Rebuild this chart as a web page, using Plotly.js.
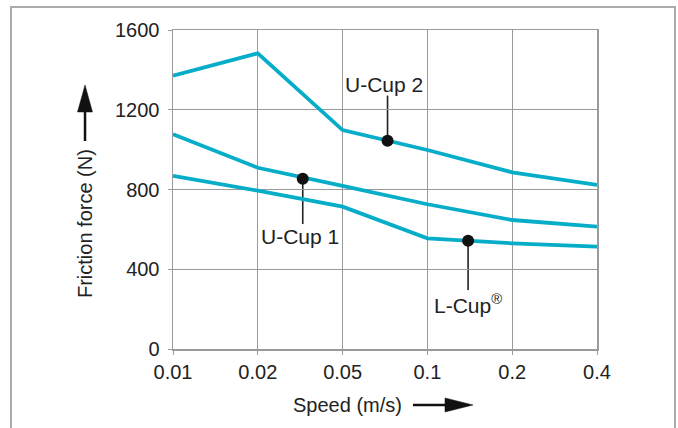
<!DOCTYPE html>
<html>
<head>
<meta charset="utf-8">
<script src="https://cdn.plot.ly/plotly-3.0.1.min.js"></script>
<style>
  html, body { margin: 0; padding: 0; background: #fff; }
  #wrap { position: relative; width: 678px; height: 428px; overflow: hidden; }
  #chart { width: 678px; height: 428px; }
  #frame { position: absolute; left: 10px; top: 6px; width: 662px; height: 440px;
           border: 2px solid #ababab; border-bottom: none; pointer-events: none; }
</style>
</head>
<body>
<div id="wrap"><div id="chart"></div><div id="frame"></div></div>
<script>
// ---- data ----
const speedLabels = ['0.01', '0.02', '0.05', '0.1', '0.2', '0.4'];
const speedIndex = [0, 1, 2, 3, 4, 5];
const uCup2 = [1371, 1483, 1098, 998, 886, 823];
const uCup1 = [1077, 909, 818, 726, 647, 614];
const lCup  = [868, 794, 714, 555, 530, 513];

const labelNames = ['U-Cup 2', 'U-Cup 1', 'L-Cup<sup>®</sup>'];
const labelDotX = [2.53, 1.53, 3.48];
const labelDotY = [1045, 854, 543];
const labelLineEndY = [1271, 627, 296];
const labelTextX = [2.49, 1.50, 3.48];
const labelTextY = [1329, 563, 226];

const yTicks = [0, 400, 800, 1200, 1600];

// ---- chart ----
const lineColor = '#06adc8';
const font = 'Liberation Sans, Arial, sans-serif';

const mkLine = (y, name) => ({
  x: speedIndex, y: y, name: name, type: 'scatter', mode: 'lines',
  line: { color: lineColor, width: 3.8 }, hoverinfo: 'skip'
});

const traces = [
  mkLine(uCup2, 'U-Cup 2'),
  mkLine(uCup1, 'U-Cup 1'),
  mkLine(lCup, 'L-Cup'),
  { x: labelDotX, y: labelDotY, type: 'scatter', mode: 'markers',
    marker: { color: '#111', size: 12 }, hoverinfo: 'skip' }
];

const shapes = [];
for (let i = 0; i < labelDotX.length; i++) {
  shapes.push({ type: 'line', xref: 'x', yref: 'y',
    x0: labelDotX[i], x1: labelDotX[i], y0: labelDotY[i], y1: labelLineEndY[i],
    line: { color: '#222', width: 1.6 }, layer: 'below' });
}
// axis arrows (paper coords)
shapes.push({ type: 'line', xref: 'paper', yref: 'paper',
  x0: -0.2075, x1: -0.2075, y0: 0.652, y1: 0.75, line: { color: '#111', width: 2.5 } });
shapes.push({ type: 'path', xref: 'paper', yref: 'paper',
  path: 'M -0.2252 0.743 L -0.1899 0.743 L -0.2075 0.8276 Z',
  fillcolor: '#111', line: { color: '#111', width: 0.5 } });
shapes.push({ type: 'line', xref: 'paper', yref: 'paper',
  x0: 0.566, x1: 0.645, y0: -0.1755, y1: -0.1755, line: { color: '#111', width: 2.5 } });
shapes.push({ type: 'path', xref: 'paper', yref: 'paper',
  path: 'M 0.6415 -0.1536 L 0.6415 -0.1975 L 0.7075 -0.1755 Z',
  fillcolor: '#111', line: { color: '#111', width: 0.5 } });

const annotations = labelNames.map((t, i) => ({
  x: labelTextX[i], y: labelTextY[i], xref: 'x', yref: 'y', text: t,
  showarrow: false, font: { family: font, size: 21, color: '#222' },
  xanchor: 'center', yanchor: 'middle'
}));
annotations.push({ x: 0.4116, y: -0.1755, xref: 'paper', yref: 'paper',
  text: 'Speed (m/s)', showarrow: false, xanchor: 'center', yanchor: 'middle',
  font: { family: font, size: 20, color: '#222' } });
annotations.push({ x: -0.2075, y: 0.3918, xref: 'paper', yref: 'paper',
  text: 'Friction force (N)', showarrow: false, textangle: -90,
  xanchor: 'center', yanchor: 'middle',
  font: { family: font, size: 20, color: '#222' } });

const layout = {
  width: 678, height: 428,
  margin: { l: 173, r: 81, t: 30, b: 79 },
  paper_bgcolor: '#fff', plot_bgcolor: '#fff',
  showlegend: false,
  font: { family: font, color: '#222' },
  xaxis: {
    range: [0, 5], tickmode: 'array', tickvals: speedIndex, ticktext: speedLabels,
    showgrid: true, gridcolor: '#9a9a9a', gridwidth: 1.3,
    showline: true, linecolor: '#9a9a9a', linewidth: 1.5, mirror: true,
    ticks: 'outside', ticklen: 4, tickcolor: '#9a9a9a',
    zeroline: false, tickfont: { family: font, size: 20, color: '#222' }, fixedrange: true
  },
  yaxis: {
    range: [0, 1600], tickmode: 'array', tickvals: yTicks,
    showgrid: true, gridcolor: '#9a9a9a', gridwidth: 1.3,
    showline: true, linecolor: '#9a9a9a', linewidth: 1.5, mirror: true,
    ticks: 'outside', ticklen: 4, tickcolor: '#9a9a9a', ticklabelstandoff: 4,
    zeroline: false, tickfont: { family: font, size: 20, color: '#222' }, fixedrange: true
  },
  shapes: shapes,
  annotations: annotations
};

Plotly.newPlot('chart', traces, layout, { staticPlot: true });
</script>
</body>
</html>
